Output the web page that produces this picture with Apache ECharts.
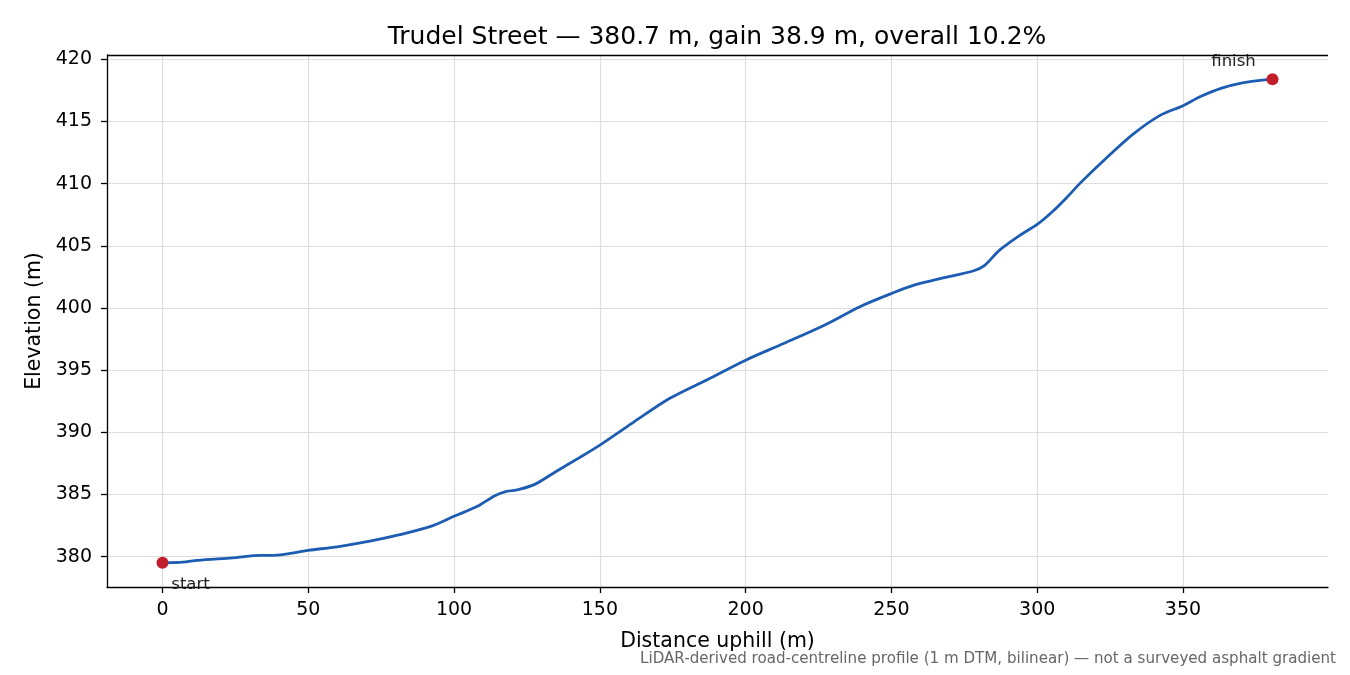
<!DOCTYPE html>
<html>
<head>
<meta charset="utf-8">
<style>
  html, body { margin: 0; padding: 0; background: #fff; }
  #chart { width: 1350px; height: 675px; }
</style>
<script src="https://cdn.jsdelivr.net/npm/echarts@6/dist/echarts.min.js"></script>
</head>
<body>
<div id="chart"></div>
<script>
// profile (distance m, elevation m)
var distance = [0, 7, 12, 24, 34, 38, 50, 61, 72, 81, 92, 100, 108, 114, 118, 122, 128, 135,
  143, 150, 161, 174, 187, 200, 213, 227, 239, 250, 258, 267, 278, 282, 287, 294, 300, 305,
  310, 315, 324, 333, 342, 350, 356, 363, 370, 380.7];
var elevation = [379.5, 379.55, 379.7, 379.9, 380.1, 380.1, 380.5, 380.83, 381.28, 381.74,
  382.43, 383.24, 384.04, 384.9, 385.25, 385.38, 385.85, 386.85, 387.96, 388.97, 390.72,
  392.73, 394.25, 395.8, 397.14, 398.61, 400.08, 401.16, 401.85, 402.38, 402.97, 403.43,
  404.63, 405.83, 406.72, 407.7, 408.85, 410.1, 412.12, 414.0, 415.47, 416.27, 417.0,
  417.66, 418.09, 418.4];
var xTicks = [0, 50, 100, 150, 200, 250, 300, 350];
var yTicks = [380, 385, 390, 395, 400, 405, 410, 415, 420];
var endLabels = ['start', 'finish'];

var font = 'DejaVu Sans';
var n = distance.length;
var lineData = distance.map(function (d, i) { return [d, elevation[i]]; });

// matplotlib-style 5% margins
var xSpan = distance[n - 1] - distance[0];
var ySpan = elevation[n - 1] - elevation[0];
var xMin = distance[0] - xSpan * 0.05, xMax = distance[n - 1] + xSpan * 0.05;
var yMin = elevation[0] - ySpan * 0.05, yMax = elevation[n - 1] + ySpan * 0.05;

var chart = echarts.init(document.getElementById('chart'), null, { renderer: 'canvas' });

var option = {
  animation: false,
  backgroundColor: '#fff',
  textStyle: { fontFamily: font },
  title: {
    text: 'Trudel Street \u2014 380.7 m, gain 38.9 m, overall 10.2%',
    left: 712, top: 20, textAlign: 'center',
    textStyle: { fontFamily: font, fontSize: 25, fontWeight: 'normal', color: '#000' }
  },
  graphic: [{
    type: 'text', right: 14, top: 652,
    style: {
      text: 'LiDAR-derived road-centreline profile (1 m DTM, bilinear) \u2014 not a surveyed asphalt gradient',
      font: '15.1px "DejaVu Sans"', fill: '#666'
    }
  }],
  grid: { left: 107, right: 22, top: 55, bottom: 88 },
  xAxis: {
    type: 'value', min: xMin, max: xMax,
    name: 'Distance uphill (m)', nameLocation: 'middle', nameGap: 44,
    nameTextStyle: { fontFamily: font, fontSize: 20.5, color: '#000' },
    axisLine: { show: true, onZero: false, lineStyle: { color: '#000', width: 1.3 } },
    axisTick: { show: true, length: 6, customValues: xTicks, lineStyle: { color: '#000', width: 1.3 } },
    axisLabel: { customValues: xTicks, fontFamily: font, fontSize: 19, color: '#000', margin: 14 },
    splitLine: { show: true, lineStyle: { color: '#dedede', width: 1.2 } }
  },
  yAxis: {
    type: 'value', min: yMin, max: yMax,
    name: 'Elevation (m)', nameLocation: 'middle', nameGap: 61, nameRotate: 90,
    nameTextStyle: { fontFamily: font, fontSize: 20.5, color: '#000' },
    axisLine: { show: true, onZero: false, lineStyle: { color: '#000', width: 1.3 } },
    axisTick: { show: true, length: 6, customValues: yTicks, lineStyle: { color: '#000', width: 1.3 } },
    axisLabel: { customValues: yTicks, fontFamily: font, fontSize: 19, color: '#000', margin: 15 },
    splitLine: { show: true, lineStyle: { color: '#dedede', width: 1.2 } }
  },
  series: [{
    type: 'line',
    data: lineData,
    showSymbol: false,
    smooth: 0.3,
    lineStyle: { color: '#1c5db3', width: 2.8 },
    z: 2
  }, {
    type: 'scatter',
    symbolSize: 12,
    itemStyle: { color: '#c21d2b', opacity: 1 },
    z: 3,
    data: [{
      value: [distance[0], elevation[0]],
      label: {
        show: true, formatter: endLabels[0], position: 'bottom', offset: [28, 2],
        fontFamily: font, fontSize: 16.5, color: '#222'
      }
    }, {
      value: [distance[n - 1], elevation[n - 1]],
      label: {
        show: true, formatter: endLabels[1], position: 'top', offset: [-39, 2],
        fontFamily: font, fontSize: 16.5, color: '#222'
      }
    }]
  }, {
    // top and right frame lines
    type: 'line', silent: true, data: [],
    markLine: {
      silent: true, symbol: 'none', label: { show: false },
      lineStyle: { color: '#000', width: 1.3, type: 'solid' },
      data: [{ yAxis: yMax }, { xAxis: xMax }]
    }
  }]
};

chart.setOption(option);
</script>
</body>
</html>
